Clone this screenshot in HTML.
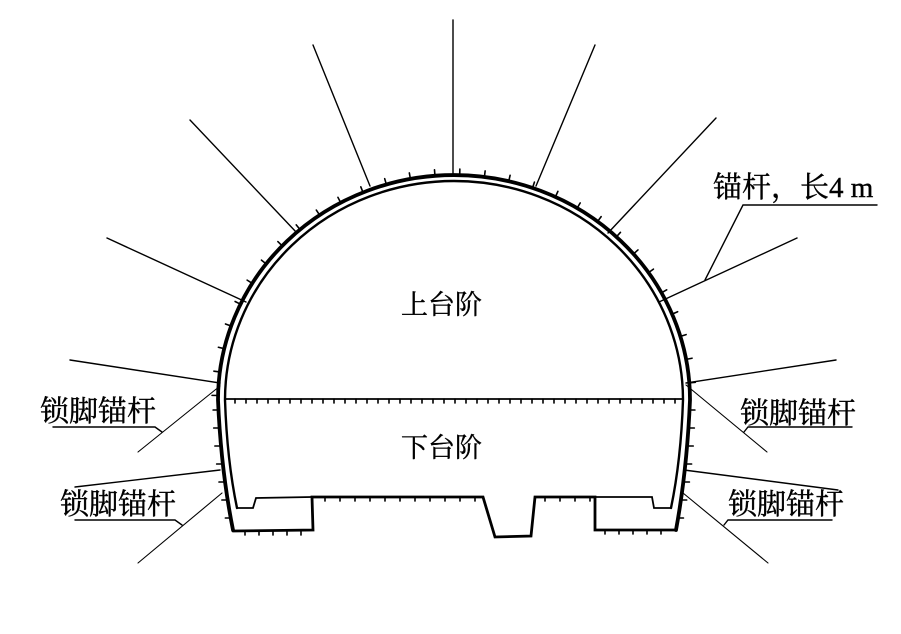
<!DOCTYPE html>
<html><head><meta charset="utf-8"><style>
html,body{margin:0;padding:0;background:#fff;}
svg{display:block;}
text{font-family:"Liberation Serif","Noto Serif CJK SC","Noto Sans CJK SC",serif;fill:#000;stroke:#000;stroke-width:0.4;}
</style></head><body>
<svg id="s" width="901" height="634" viewBox="0 0 901 634" xmlns="http://www.w3.org/2000/svg">
<g fill="none" stroke="#000" stroke-linecap="round">
<path d="M233,530 Q221,470 218,400 A236,225 0 0 1 690,400 Q687,470 676,530" stroke-width="3.8"/>
<path d="M237,508 Q227,460 225,400 A229,219 0 0 1 683,400 Q681,460 671,508" stroke-width="2.4"/>
<path d="M233,531 L313,530 L312,497 L483,497 L495,537 L531,536 L535,497 L595,497 L595,530 L676,530" stroke-width="2.8"/>
<path d="M237,508 L253,508 L256,498 L312,497" stroke-width="1.8"/>
<path d="M595,497 L652,497 L654,508 L671,508" stroke-width="1.8"/>
<line x1="225" y1="399" x2="683" y2="399" stroke-width="1.8"/>
<g id="ticks" stroke-width="1.6"></g>
<g stroke-width="1.4">
<line x1="453" y1="175" x2="453" y2="20"/>
<line x1="370" y1="186" x2="313" y2="45"/>
<line x1="536" y1="186" x2="595" y2="45"/>
<line x1="297" y1="233" x2="190" y2="120"/>
<line x1="608" y1="233" x2="716" y2="118"/>
<line x1="246" y1="302" x2="107" y2="238"/>
<line x1="659" y1="302" x2="797" y2="238"/>
<line x1="220" y1="383" x2="70" y2="360"/>
<line x1="686" y1="383" x2="836" y2="360"/>
<line x1="220" y1="470" x2="75" y2="487"/>
<line x1="684" y1="470" x2="838" y2="490"/>
</g>
<g stroke-width="1.1">
<line x1="220" y1="386" x2="138" y2="452"/>
<line x1="222" y1="493" x2="138" y2="563"/>
<line x1="686" y1="385" x2="767" y2="452"/>
<line x1="683" y1="493" x2="768" y2="563"/>
</g>
<g stroke-width="1.4">
<polyline points="53,427 155,427 162,432"/>
<polyline points="75,520 175,520 182,525"/>
<polyline points="852,427 748,427 744,432"/>
<polyline points="832,520 728,520 724,525"/>
<polyline points="877,205 743,205 705,280"/>
</g>
</g>
<g font-size="27">
<text x="401" y="314">上台阶</text>
<text x="401" y="457">下台阶</text>
</g>
<g font-size="29">
<text x="40" y="421">锁脚锚杆</text>
<text x="60" y="514">锁脚锚杆</text>
<text x="740" y="423">锁脚锚杆</text>
<text x="728" y="514">锁脚锚杆</text>
<text x="713" y="197">锚杆，长4 m</text>
</g>
</svg>
<script>
(function(){
var g=document.getElementById('ticks'),s='',cx=454,cy=400,rx=236,ry=225;
for(var t=0.02;t<Math.PI;t+=0.105){
 var x=cx-rx*Math.cos(t),y=cy-ry*Math.sin(t);
 var nx=-Math.cos(t)/rx,ny=-Math.sin(t)/ry,l=Math.hypot(nx,ny);nx/=l;ny/=l;
 s+='<line x1="'+x+'" y1="'+y+'" x2="'+(x+nx*6)+'" y2="'+(y+ny*6)+'"/>';
}
for(var y=410;y<525;y+=18){var f=(y-400)/130;
 var xl=218+15*f*f,xr=690-14*f*f;
 s+='<line x1="'+xl+'" y1="'+y+'" x2="'+(xl-5)+'" y2="'+y+'"/>';
 s+='<line x1="'+xr+'" y1="'+y+'" x2="'+(xr+5)+'" y2="'+y+'"/>';}
for(var x=235;x<683;x+=11){s+='<line x1="'+x+'" y1="399" x2="'+x+'" y2="403"/>';}
for(var x=325;x<480;x+=15){s+='<line x1="'+x+'" y1="497" x2="'+x+'" y2="501"/>';}
for(var x=545;x<595;x+=15){s+='<line x1="'+x+'" y1="497" x2="'+x+'" y2="501"/>';}
for(var x=245;x<310;x+=14){s+='<line x1="'+x+'" y1="531" x2="'+x+'" y2="535"/>';}
for(var x=605;x<670;x+=14){s+='<line x1="'+x+'" y1="530" x2="'+x+'" y2="534"/>';}
g.innerHTML=s;
})();
</script>
</body></html>
